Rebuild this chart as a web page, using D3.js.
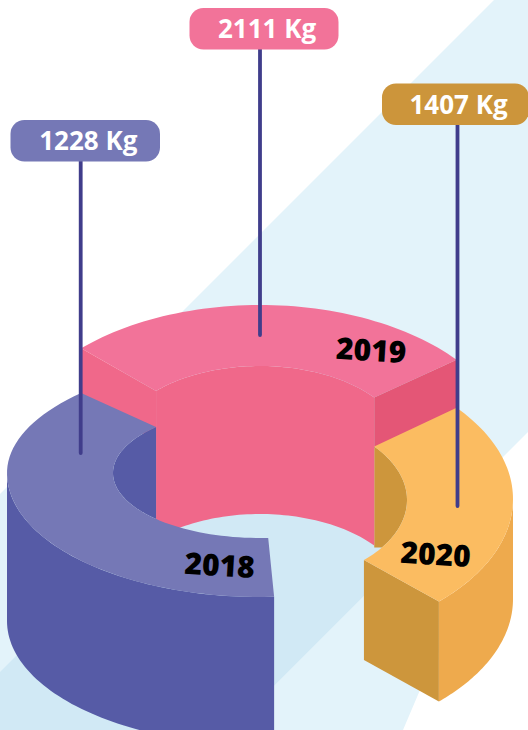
<!DOCTYPE html>
<html>
<head>
<meta charset="utf-8">
<script src="https://cdn.jsdelivr.net/npm/d3@7"></script>
<style>
  html, body { margin: 0; padding: 0; background: #fff; }
  svg { display: block; }
</style>
</head>
<body>
<div id="chart"></div>
<script>
// values
var years = ["2018", "2019", "2020"];
var weights = [1228, 2111, 1407];
// where each piece starts and ends on the ring, clockwise from the top, in degrees
var startDeg = [176.8, -45, 51];
var endDeg = [315, 51, 135];

var width = 528, height = 730;

var color = d3.scaleOrdinal().domain(years).range(["#7578b6", "#f27399", "#fbbc61"]);
var wallColor = d3.scaleOrdinal().domain(years).range(["#565ba6", "#f0688a", "#cd963c"]);
var outerColor = d3.scaleOrdinal().domain(years).range(["#565ba6", "#e45676", "#eeaa4d"]);
var tagColor = d3.scaleOrdinal().domain(years).range(["#7578b6", "#f27399", "#cc953b"]);

// each piece is drawn with its own ellipses, the picture is not a true projection
var shape = {
  "2018": { cy: 473, ry: 124, ryTop: 113, icy: 473, iry: 65, depth: 148 },
  "2019": { cy: 453, ry: 148, ryTop: 148, icy: 451, iry: 85, depth: 148 },
  "2020": { cy: 499, ry: 145, ryTop: 145, icy: 500, iry: 85, depth: 100 }
};
var cx = 260, rx = 253, irx = 147;

var tags = {
  "2018": { x: 10.5, y: 120, w: 149.5, stemX: 80.7, stemEnd: 453 },
  "2019": { x: 189.5, y: 8, w: 149, stemX: 260, stemEnd: 335 },
  "2020": { x: 382, y: 83.5, w: 147, stemX: 457.5, stemEnd: 506 }
};
var yearPos = {
  "2018": [219, 576],
  "2019": [370.5, 361],
  "2020": [435, 565]
};

var svg = d3.select("#chart")
  .append("svg")
  .attr("width", width)
  .attr("height", height);

// background bands
var bg = svg.append("g");
bg.append("polygon")
  .attr("points", "494,0 528,0 528,432 230,730 0,730 0,494")
  .attr("fill", "#e3f3fa");
bg.append("polygon")
  .attr("points", "230,730 300,660 440,520 440,650 420,690 403,730")
  .attr("fill", "#e3f3fa");
bg.append("polygon")
  .attr("points", "0,672 300,372 440,372 440,520 230,730 0,730")
  .attr("fill", "#d1e9f5");

var line = d3.line();

function outerPt(s, deg, dy) {
  var a = deg * Math.PI / 180, c = Math.cos(a);
  return [cx + rx * Math.sin(a), s.cy - (c > 0 ? s.ryTop : s.ry) * c + (dy || 0)];
}
function innerPt(s, deg, dy) {
  var a = deg * Math.PI / 180;
  return [cx + irx * Math.sin(a), s.icy - s.iry * Math.cos(a) + (dy || 0)];
}
function arc(pt, s, a0, a1, dy) {
  var n = 60;
  return d3.range(n + 1).map(function (i) {
    return pt(s, a0 + (a1 - a0) * i / n, dy);
  });
}
function draw(points, fill) {
  svg.append("path")
    .attr("d", line(points) + "Z")
    .attr("fill", fill);
}

function topFace(i) {
  var y = years[i], s = shape[y];
  draw(arc(outerPt, s, startDeg[i], endDeg[i]).concat(arc(innerPt, s, endDeg[i], startDeg[i])), color(y));
}
function outerWall(i, a0, a1) {
  var y = years[i], s = shape[y];
  draw(arc(outerPt, s, a0, a1).concat(arc(outerPt, s, a1, a0, s.depth)), outerColor(y));
}
function innerWall(i, a0, a1) {
  // closes along the edge of the pink wall standing in front of it
  var y = years[i], s = shape[y];
  var pts = arc(innerPt, s, a0, a1);
  pts.push([pts[0][0], pts[pts.length - 1][1]]);
  draw(pts, wallColor(y));
}
function cutFace(i, deg, depth, fill) {
  var s = shape[years[i]];
  draw([outerPt(s, deg), innerPt(s, deg), innerPt(s, deg, depth), outerPt(s, deg, depth)], fill);
}

// orange wall sits behind the pink one
innerWall(2, 51, 124);

// 2019
var ps = shape["2019"];
draw(arc(innerPt, ps, -45, 51).concat(arc(innerPt, ps, 51, -45, ps.depth)), wallColor("2019"));
topFace(1);
cutFace(1, -45, 50, wallColor("2019"));
cutFace(1, 51, 50, outerColor("2019"));

// 2020
outerWall(2, 90, 135);
cutFace(2, 135, shape["2020"].depth, wallColor("2020"));
topFace(2);

// 2018
innerWall(0, 225, 315);
outerWall(0, 176.8, 270);
topFace(0);

// stems
svg.append("g").selectAll("line")
  .data(years)
  .enter()
  .append("line")
  .attr("x1", function (d) { return tags[d].stemX; })
  .attr("x2", function (d) { return tags[d].stemX; })
  .attr("y1", function (d) { return tags[d].y + 38; })
  .attr("y2", function (d) { return tags[d].stemEnd; })
  .attr("stroke", "#403d8b")
  .attr("stroke-width", 3.8)
  .attr("stroke-linecap", "round");

// value tags
var tag = svg.append("g").selectAll("g")
  .data(years)
  .enter()
  .append("g");

tag.append("rect")
  .attr("x", function (d) { return tags[d].x; })
  .attr("y", function (d) { return tags[d].y; })
  .attr("width", function (d) { return tags[d].w; })
  .attr("height", 41.5)
  .attr("rx", 14)
  .attr("fill", function (d) { return tagColor(d); });

tag.append("text")
  .attr("x", function (d) { return tags[d].x + tags[d].w / 2 + 3; })
  .attr("y", function (d) { return tags[d].y + 30; })
  .attr("text-anchor", "middle")
  .attr("font-family", "'Open Sans', sans-serif")
  .attr("font-weight", 700)
  .attr("font-size", 26)
  .attr("fill", "#fff")
  .text(function (d, i) { return weights[i] + " Kg"; });

// year labels
svg.append("g").selectAll("text")
  .data(years)
  .enter()
  .append("text")
  .attr("transform", function (d) {
    return "translate(" + yearPos[d][0] + "," + yearPos[d][1] + ") rotate(3.5)";
  })
  .attr("text-anchor", "middle")
  .attr("font-family", "'Open Sans', sans-serif")
  .attr("font-weight", 800)
  .attr("font-size", 30)
  .attr("fill", "#000")
  .text(function (d) { return d; });
</script>
</body>
</html>
